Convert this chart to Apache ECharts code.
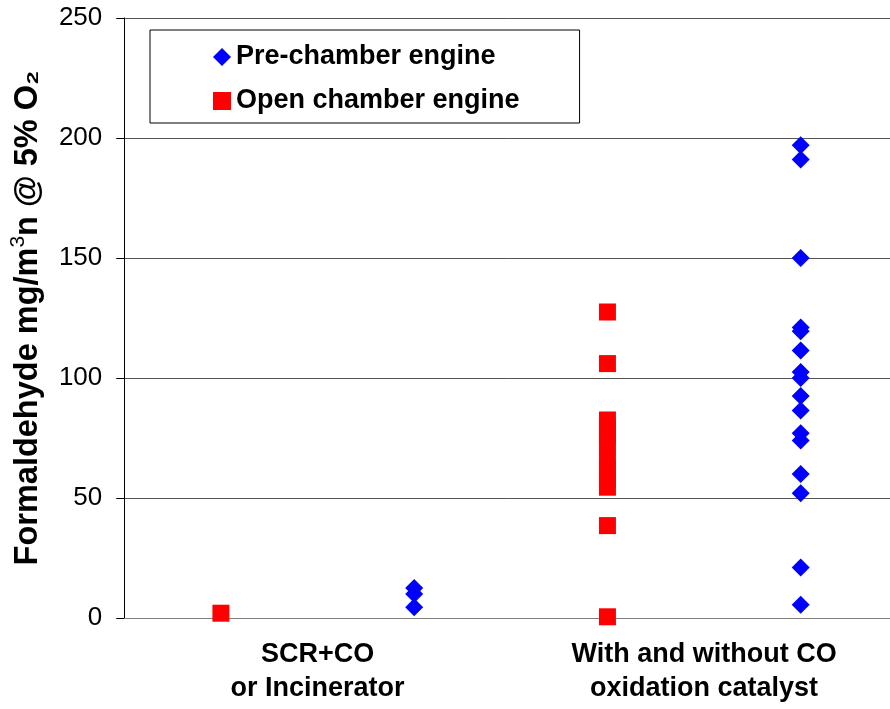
<!DOCTYPE html>
<html>
<head>
<meta charset="utf-8">
<script src="https://cdn.jsdelivr.net/npm/echarts@6/dist/echarts.min.js"></script>
<style>
html,body{margin:0;padding:0;background:#fff;}
#chart{width:890px;height:709px;}
</style>
</head>
<body>
<div id="chart"></div>
<script>
// ---- data ----
const groupLabels = ['SCR+CO\nor Incinerator', 'With and without CO\noxidation catalyst'];
// sub-category slots along x: 0 = SCR open, 1 = SCR pre, 2 = with/without open, 3 = with/without pre
const subCategories = ['SCR+CO open', 'SCR+CO pre', 'With/without open', 'With/without pre'];
const seriesNames = ['Pre-chamber engine', 'Open chamber engine'];
const preScr = [12.5, 10, 4.5];
const preWith = [197, 191, 150, 121, 119.5, 111.5, 102.5, 100, 92.5, 86.5, 77, 74, 60, 52, 21, 5.5];
const openScr = [2];
const openWith = [127.5, 106, 82.5, 79, 76, 72.5, 66, 62, 58, 54.5, 38.5, 0.5];
const yTicks = [0, 50, 100, 150, 200, 250];

const FONT = '"Liberation Sans", Arial, sans-serif';

const slot = name => subCategories.indexOf(name);
const preData = preScr.map(v => [slot('SCR+CO pre'), v]).concat(preWith.map(v => [slot('With/without pre'), v]));
const openData = openScr.map(v => [slot('SCR+CO open'), v]).concat(openWith.map(v => [slot('With/without open'), v]));

const chart = echarts.init(document.getElementById('chart'), null, {renderer: 'canvas'});
chart.setOption({
  animation: false,
  backgroundColor: '#ffffff',
  textStyle: {fontFamily: FONT},
  grid: {left: 123, top: 18, right: 0, height: 600},
  legend: {
    orient: 'vertical',
    left: 150, top: 30,
    padding: [12, 60, 7, 63],
    borderColor: '#000', borderWidth: 1,
    itemWidth: 18, itemHeight: 18,
    itemGap: 14,
    textStyle: {fontFamily: FONT, fontSize: 27, fontWeight: 'bold', color: '#000', lineHeight: 30},
    data: seriesNames
  },
  xAxis: {
    type: 'value',
    min: -0.5, max: 3.462, interval: 1,
    axisLine: {show: true, onZero: false, lineStyle: {color: '#808080', width: 1}},
    axisTick: {show: false},
    splitLine: {show: false},
    axisLabel: {
      show: true, margin: 20, showMinLabel: false, showMaxLabel: false,
      fontFamily: FONT, fontSize: 27, fontWeight: 'bold', color: '#000', lineHeight: 34,
      formatter: function (v) {
        const k = (v - 0.5) / 2;
        return (Number.isInteger(k) && groupLabels[k]) ? groupLabels[k] : '';
      }
    }
  },
  yAxis: {
    type: 'value', min: yTicks[0], max: yTicks[yTicks.length - 1], interval: 50,
    name: 'Formaldehyde mg/m{sup|3}n @ 5% O\u2082',
    nameLocation: 'middle', nameGap: 69,
    nameTextStyle: {
      fontFamily: FONT, fontSize: 32.5, fontWeight: 'bold', color: '#000', lineHeight: 40,
      rich: {
        sup: {fontFamily: FONT, fontSize: 21, fontWeight: 'normal', color: '#000', verticalAlign: 'top', lineHeight: 40}
      }
    },
    axisLine: {show: true, onZero: false, lineStyle: {color: '#000', width: 1}},
    axisTick: {show: true, inside: false, length: 8, lineStyle: {color: '#000'}},
    axisLabel: {fontFamily: FONT, fontSize: 26, color: '#000', margin: 22},
    splitLine: {show: true, lineStyle: {color: '#555', width: 1}}
  },
  series: [
    {
      name: seriesNames[0], type: 'scatter',
      symbol: 'diamond', symbolSize: 18,
      itemStyle: {color: '#0000FF', opacity: 1},
      data: preData, z: 3
    },
    {
      name: seriesNames[1], type: 'scatter',
      symbol: 'rect', symbolSize: 17,
      itemStyle: {color: '#FF0000', opacity: 1},
      data: openData, z: 2
    }
  ]
});
</script>
</body>
</html>
